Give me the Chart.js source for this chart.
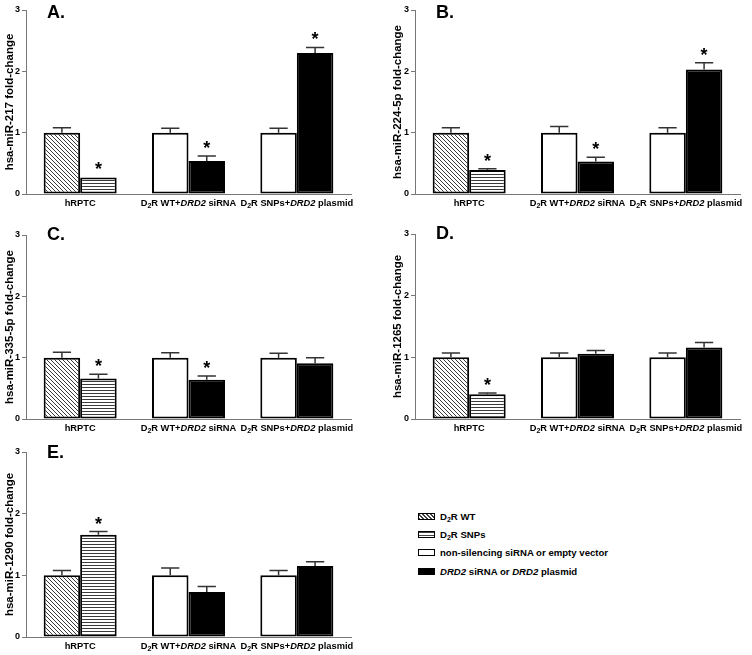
<!DOCTYPE html>
<html>
<head>
<meta charset="utf-8">
<script src="https://cdn.jsdelivr.net/npm/chart.js@4"></script>
<style>
  body { margin: 0; background: #fff; width: 752px; height: 655px; position: relative; overflow: hidden;
         font-family: 'Liberation Sans', Arial, sans-serif; }
  canvas { position: absolute; }
  #legend { position: absolute; left: 418px; top: 507px; font-weight: bold; font-size: 9.6px; color: #000; }
  .row { height: 18.3px; display: flex; align-items: center; white-space: nowrap; }
  .sw { display: inline-block; width: 15px; height: 5px; border: 1px solid #000; margin-right: 5px; background: #fff; }
  .diag { background: repeating-linear-gradient(45deg, #444 0 1px, #fff 1px 2.8px); }
  .horiz { background: repeating-linear-gradient(180deg, #444 0 1px, #fff 1px 2.5px); }
  .black { background: #000; }
  .sub { font-size: 7px; position: relative; top: 3px; }
</style>
</head>
<body>
<canvas id="chartA" width="362" height="212"></canvas>
<canvas id="chartB" width="364" height="212"></canvas>
<canvas id="chartC" width="362" height="212"></canvas>
<canvas id="chartD" width="364" height="212"></canvas>
<canvas id="chartE" width="362" height="212"></canvas>
<div id="legend">
  <div class="row"><span class="sw diag"></span>D<span class="sub">2</span>R WT</div>
  <div class="row"><span class="sw horiz"></span>D<span class="sub">2</span>R SNPs</div>
  <div class="row"><span class="sw"></span>non-silencing siRNA or empty vector</div>
  <div class="row"><span class="sw black"></span><i>DRD2</i>&nbsp;siRNA or&nbsp;<i>DRD2</i>&nbsp;plasmid</div>
</div>
<script>
const family = "'Liberation Sans', Arial, sans-serif";
Chart.defaults.font.family = family;
Chart.defaults.color = '#000';

const categories = ['hRPTC', 'D2R WT+DRD2 siRNA', 'D2R SNPs+DRD2 plasmid'];
const yMin = 0;
const yMax = 3;

// hsa-miR-217
const mir217Ctrl = [1.00, 1.00, 1.00];
const mir217CtrlErr = [0.08, 0.07, 0.07];
const mir217Treat = [0.27, 0.54, 2.30];
const mir217TreatErr = [0.00, 0.08, 0.09];
const mir217Stars = [1, 1, 1];

// hsa-miR-224-5p
const mir224Ctrl = [1.00, 1.00, 1.00];
const mir224CtrlErr = [0.08, 0.10, 0.08];
const mir224Treat = [0.39, 0.53, 2.03];
const mir224TreatErr = [0.02, 0.07, 0.11];
const mir224Stars = [1, 1, 1];

// hsa-miR-335-5p
const mir335Ctrl = [1.00, 1.00, 1.00];
const mir335CtrlErr = [0.09, 0.08, 0.07];
const mir335Treat = [0.66, 0.64, 0.91];
const mir335TreatErr = [0.07, 0.06, 0.09];
const mir335Stars = [1, 1, 0];

// hsa-miR-1265
const mir1265Ctrl = [1.00, 1.00, 1.00];
const mir1265CtrlErr = [0.07, 0.07, 0.07];
const mir1265Treat = [0.40, 1.06, 1.16];
const mir1265TreatErr = [0.02, 0.05, 0.08];
const mir1265Stars = [1, 0, 0];

// hsa-miR-1290
const mir1290Ctrl = [1.00, 1.00, 1.00];
const mir1290CtrlErr = [0.08, 0.12, 0.08];
const mir1290Treat = [1.66, 0.73, 1.15];
const mir1290TreatErr = [0.05, 0.09, 0.07];
const mir1290Stars = [1, 0, 0];

function makePattern(kind) {
  const c = document.createElement('canvas');
  c.width = 4; c.height = kind === 'diag' ? 4 : 3;
  const g = c.getContext('2d');
  g.fillStyle = '#fff'; g.fillRect(0, 0, c.width, c.height);
  g.fillStyle = '#3a3a3a';
  if (kind === 'diag') { for (let i = 0; i < 4; i++) g.fillRect(i, i, 1, 1); }
  else g.fillRect(0, 0, 4, 1);
  return g.createPattern(c, 'repeat');
}

// draws error bars (upward only) and the asterisks
const errorBars = {
  id: 'errorBars',
  afterDatasetsDraw(chart) {
    const ctx = chart.ctx, y = chart.scales.y;
    ctx.save();
    chart.data.datasets.forEach((ds, di) => {
      chart.getDatasetMeta(di).data.forEach((bar, i) => {
        const base = y.getPixelForValue(ds.data[i]);
        const top = y.getPixelForValue(ds.data[i] + ds.errors[i]);
        if (ds.errors[i] > 0) {
          const half = bar.width * 0.25;
          ctx.strokeStyle = '#333';
          ctx.lineWidth = 1.5;
          ctx.beginPath();
          ctx.moveTo(bar.x, base); ctx.lineTo(bar.x, top);
          ctx.moveTo(bar.x - half, top); ctx.lineTo(bar.x + half, top);
          ctx.stroke();
        }
        if (ds.stars && ds.stars[i]) {
          ctx.fillStyle = '#000';
          ctx.font = 'bold 18px ' + family;
          ctx.textAlign = 'center';
          ctx.textBaseline = 'alphabetic';
          ctx.fillText('*', bar.x, top - 2);
        }
      });
    });
    ctx.restore();
  }
};

function drawLabel(ctx, text, cx, cy) {
  const runs = [];
  text.split(/(D2R|DRD2)/).filter(Boolean).forEach(p => {
    if (p === 'D2R') runs.push({t: 'D'}, {t: '2', sub: true}, {t: 'R'});
    else if (p === 'DRD2') runs.push({t: 'DRD2', it: true});
    else runs.push({t: p});
  });
  const fontFor = r => (r.it ? 'italic ' : '') + 'bold ' + (r.sub ? 7 : 9.3) + 'px ' + family;
  let total = 0;
  runs.forEach(r => { ctx.font = fontFor(r); r.w = ctx.measureText(r.t).width; total += r.w; });
  let x = cx - total / 2;
  runs.forEach(r => {
    ctx.font = fontFor(r);
    ctx.fillText(r.t, x, r.sub ? cy + 3 : cy);
    x += r.w;
  });
}

// category labels with subscript / italic parts, and the panel letter
const panelText = {
  id: 'panelText',
  afterDraw(chart, args, opts) {
    const ctx = chart.ctx, xs = chart.scales.x, area = chart.chartArea;
    ctx.save();
    ctx.fillStyle = '#000';
    ctx.textAlign = 'left';
    ctx.textBaseline = 'middle';
    chart.data.labels.forEach((lab, i) => drawLabel(ctx, lab, xs.getPixelForValue(i), area.bottom + 9));
    ctx.font = 'bold 18px ' + family;
    ctx.textBaseline = 'alphabetic';
    ctx.fillText(opts.letter, area.left + 21, area.top + opts.letterDy);
    ctx.restore();
  }
};

function makePanel(id, area, yWidth, letter, letterDy, title, ctrl, ctrlErr, treat, treatErr, stars) {
  const canvas = document.getElementById(id);
  const padTop = 10, padBottom = 18, padRight = 10;
  canvas.style.left = (area.x0 - yWidth) + 'px';
  canvas.style.top = (area.y3 - padTop) + 'px';
  canvas.width = area.x1 + padRight - (area.x0 - yWidth);
  canvas.height = area.y0 + padBottom - (area.y3 - padTop);

  return new Chart(canvas, {
    type: 'bar',
    data: {
      labels: categories,
      datasets: [{
        data: ctrl,
        errors: ctrlErr,
        backgroundColor: [makePattern('diag'), '#fff', '#fff'],
        borderColor: '#000',
        borderWidth: 2,
        borderSkipped: false
      }, {
        data: treat,
        errors: treatErr,
        stars: stars,
        backgroundColor: [makePattern('horiz'), '#000', '#000'],
        borderColor: '#000',
        borderWidth: 2,
        borderSkipped: false
      }]
    },
    options: {
      responsive: false,
      animation: false,
      layout: { padding: { top: padTop, bottom: padBottom, left: 0, right: padRight } },
      categoryPercentage: 0.674,
      barPercentage: 1.0,
      plugins: {
        legend: { display: false },
        tooltip: { enabled: false },
        panelText: { letter: letter, letterDy: letterDy }
      },
      scales: {
        x: {
          ticks: { display: false },
          grid: { display: true, drawOnChartArea: false, drawTicks: false },
          border: { display: true, color: '#777', width: 1 },
          afterFit: s => { s.height = 0; }
        },
        y: {
          min: yMin, max: yMax,
          ticks: { stepSize: 1, padding: 2, color: '#000', font: { size: 9, weight: 'bold' } },
          grid: { display: true, drawOnChartArea: false, drawTicks: true, tickLength: 4, color: '#777' },
          border: { display: true, color: '#777', width: 1 },
          title: { display: true, text: title, color: '#000', padding: { top: 2.5, bottom: 0 },
                   font: { size: 11.5, weight: 'bold' } },
          afterFit: s => { s.width = yWidth; }
        }
      }
    },
    plugins: [errorBars, panelText]
  });
}

makePanel('chartA', {x0: 26, x1: 351.5, y3: 10, y0: 194}, 26, 'A.', 8, 'hsa-miR-217 fold-change',
  mir217Ctrl, mir217CtrlErr, mir217Treat, mir217TreatErr, mir217Stars);
makePanel('chartB', {x0: 415, x1: 740, y3: 10, y0: 194}, 27, 'B.', 8, 'hsa-miR-224-5p fold-change',
  mir224Ctrl, mir224CtrlErr, mir224Treat, mir224TreatErr, mir224Stars);
makePanel('chartC', {x0: 26, x1: 351.5, y3: 235, y0: 419}, 26, 'C.', 5, 'hsa-miR-335-5p fold-change',
  mir335Ctrl, mir335CtrlErr, mir335Treat, mir335TreatErr, mir335Stars);
makePanel('chartD', {x0: 415, x1: 740, y3: 234, y0: 419}, 27, 'D.', 5, 'hsa-miR-1265 fold-change',
  mir1265Ctrl, mir1265CtrlErr, mir1265Treat, mir1265TreatErr, mir1265Stars);
makePanel('chartE', {x0: 26, x1: 351.5, y3: 452, y0: 637}, 26, 'E.', 6, 'hsa-miR-1290 fold-change',
  mir1290Ctrl, mir1290CtrlErr, mir1290Treat, mir1290TreatErr, mir1290Stars);
</script>
</body>
</html>
